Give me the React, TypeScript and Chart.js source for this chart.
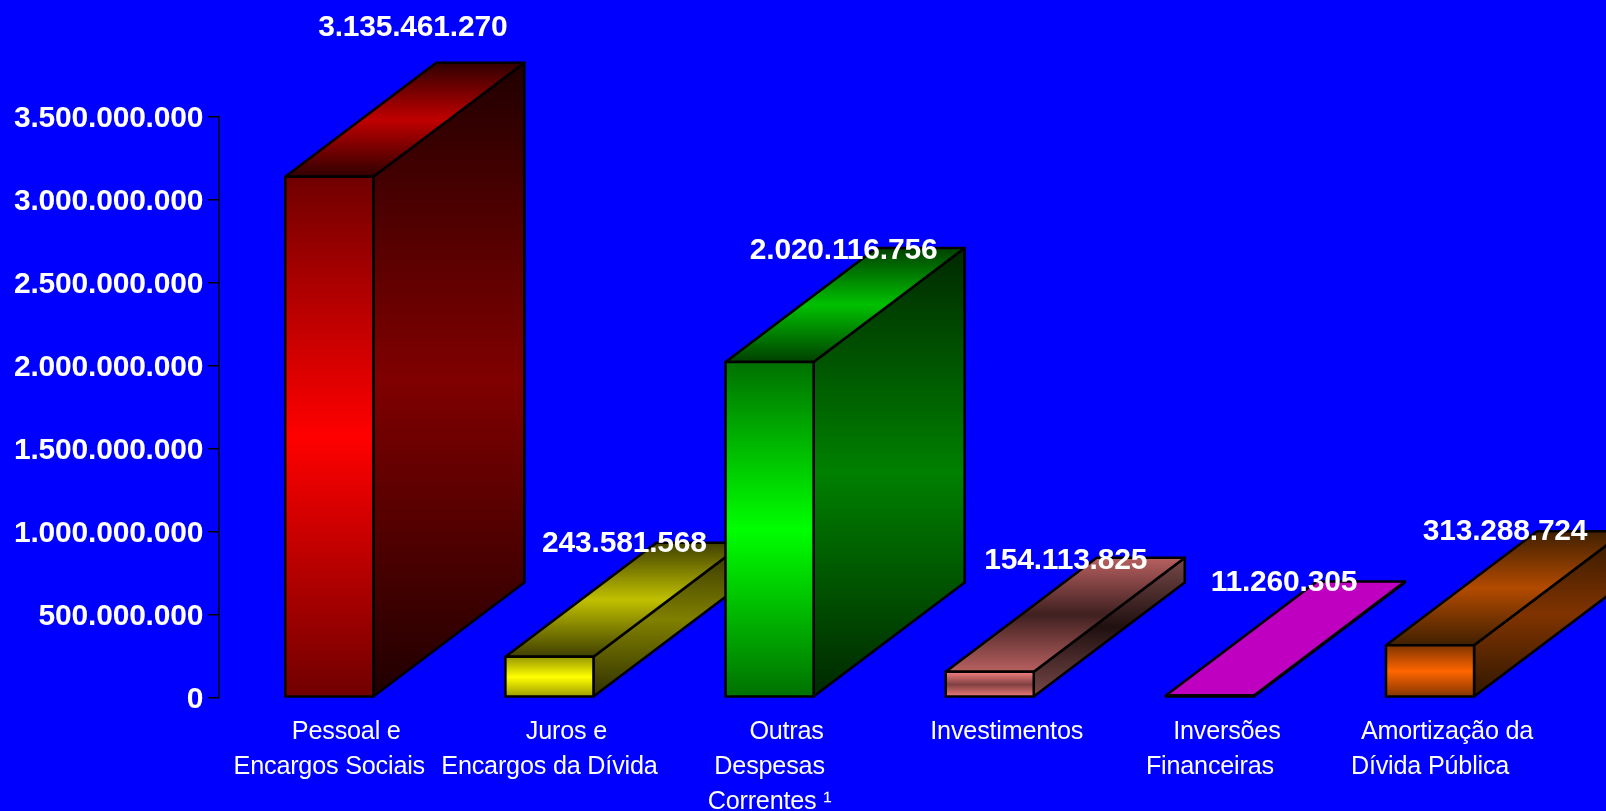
import React, { useEffect, useRef } from "react";
import { Chart, registerables } from "chart.js";

Chart.register(...registerables);

const categories = [
  ["     Pessoal e", "Encargos Sociais"],
  ["     Juros e", "Encargos da Dívida"],
  ["     Outras", "Despesas", "Correntes ¹"],
  ["     Investimentos"],
  ["     Inversões", "Financeiras"],
  ["     Amortização da", "Dívida Pública"],
];
const values = [3135461270, 243581568, 2020116756, 154113825, 11260305, 313288724];
const valueLabels = ["3.135.461.270", "243.581.568", "2.020.116.756", "154.113.825", "11.260.305", "313.288.724"];
const yTicks = ["0", "500.000.000", "1.000.000.000", "1.500.000.000", "2.000.000.000", "2.500.000.000", "3.000.000.000", "3.500.000.000"];

const frontEnd = ["#700000", "#989800", "#007000", "#f58080", "#c000c0", "#803300"];
const frontMid = ["#ff0000", "#ffff00", "#00ff00", "#804040", "#c000c0", "#ff6600"];
const topEnd = ["#300000", "#404000", "#004000", "#b86060", "#c000c0", "#402000"];
const topMid = ["#c00000", "#c0c000", "#00c000", "#402020", "#c000c0", "#b34a00"];
const sideEnd = ["#200000", "#303000", "#002800", "#784848", "#c000c0", "#301800"];
const sideMid = ["#800000", "#808000", "#008000", "#201010", "#c000c0", "#803300"];

// Oblique depth of the 3D bars, and the hand-placed label shift from the top-back-centre of each bar.
const DEPTH_X = 151;
const DEPTH_Y = 114;
const LINE = 2.5;
const labelShiftX = [-67.5, -76, -77, -75, -77, -76];
const labelBaseline = [-27, 9, 11, 11, 9.5, 9];

function grad(ctx: CanvasRenderingContext2D, y0: number, y1: number, end: string, mid: string) {
  const g = ctx.createLinearGradient(0, y0, 0, y1);
  g.addColorStop(0, end);
  g.addColorStop(0.5, mid);
  g.addColorStop(1, end);
  return g;
}

function outline(ctx: CanvasRenderingContext2D, pts: number[][]) {
  ctx.beginPath();
  pts.forEach(([x, y], i) => (i ? ctx.lineTo(x, y) : ctx.moveTo(x, y)));
  ctx.closePath();
}

function face(ctx: CanvasRenderingContext2D, pts: number[][], fill: CanvasGradient) {
  outline(ctx, pts);
  ctx.fillStyle = fill;
  ctx.fill();
  ctx.lineWidth = LINE;
  ctx.strokeStyle = "#000";
  ctx.lineJoin = "round";
  ctx.stroke();
}

const bar3d = {
  id: "bar3d",
  beforeDraw(chart: any) {
    chart.ctx.letterSpacing = "-0.2px";
  },
  beforeDatasetsDraw(chart: any) {
    const { ctx } = chart;
    ctx.save();
    chart.getDatasetMeta(0).data.forEach((bar: any, i: number) => {
      const l = bar.x - bar.width / 2;
      const r = bar.x + bar.width / 2;
      const t = bar.y;
      const b = bar.base;
      face(
        ctx,
        [[r, t], [r + DEPTH_X, t - DEPTH_Y], [r + DEPTH_X, b - DEPTH_Y], [r, b]],
        grad(ctx, t - DEPTH_Y, b, sideEnd[i], sideMid[i])
      );
      face(
        ctx,
        [[l, t], [l + DEPTH_X, t - DEPTH_Y], [r + DEPTH_X, t - DEPTH_Y], [r, t]],
        grad(ctx, t - DEPTH_Y, t, topEnd[i], topMid[i])
      );
    });
    ctx.restore();
  },
  afterDatasetsDraw(chart: any) {
    const { ctx } = chart;
    ctx.save();
    ctx.lineWidth = LINE;
    ctx.strokeStyle = "#000";
    ctx.lineJoin = "round";
    chart.getDatasetMeta(0).data.forEach((bar: any) => {
      const l = bar.x - bar.width / 2;
      const r = bar.x + bar.width / 2;
      outline(ctx, [[l, bar.y], [r, bar.y], [r, bar.base], [l, bar.base]]);
      ctx.stroke();
    });
    ctx.restore();
  },
  afterDraw(chart: any) {
    const { ctx } = chart;
    ctx.save();
    ctx.font = "bold 30px 'Liberation Sans'";
    ctx.fillStyle = "#fff";
    ctx.textAlign = "center";
    ctx.textBaseline = "alphabetic";
    chart.getDatasetMeta(0).data.forEach((bar: any, i: number) => {
      const backCentreX = bar.x + DEPTH_X;
      const backTop = bar.y - DEPTH_Y;
      ctx.fillText(valueLabels[i], backCentreX + labelShiftX[i], backTop + labelBaseline[i]);
    });
    ctx.restore();
  },
};

export default function App() {
  const ref = useRef<HTMLCanvasElement>(null);
  useEffect(() => {
    const chart = new Chart(ref.current!, {
      type: "bar",
      data: {
        labels: categories as any,
        datasets: [
          {
            data: values,
            categoryPercentage: 1,
            barPercentage: 0.4,
            borderWidth: 0,
            backgroundColor: (c: any) => {
              if (c.dataIndex === undefined || !c.chart.scales.y) return "#000";
              const y = c.chart.scales.y;
              const t = y.getPixelForValue(values[c.dataIndex]);
              const b = y.getPixelForValue(0);
              if (!Number.isFinite(t) || !Number.isFinite(b)) return "#000";
              return grad(c.chart.ctx, t, b, frontEnd[c.dataIndex], frontMid[c.dataIndex]);
            },
          },
        ],
      },
      options: {
        responsive: false,
        animation: false,
        events: [],
        layout: { padding: { top: 116.3, right: 65.9, left: 0, bottom: 0 } },
        plugins: { legend: { display: false }, tooltip: { enabled: false }, title: { display: false } },
        scales: {
          x: {
            grid: { display: false },
            border: { display: false },
            afterFit: (s: any) => {
              s.height = 113.7;
            },
            ticks: {
              color: "#fff",
              font: { family: "'Liberation Sans'", size: 25.2, lineHeight: 1.38 },
              padding: 9.5,
              autoSkip: false,
              maxRotation: 0,
              minRotation: 0,
            },
          },
          y: {
            min: 0,
            max: 3500000000,
            afterFit: (s: any) => {
              s.width = 219.2;
            },
            grid: { drawOnChartArea: false, color: "#000", tickLength: 11, lineWidth: 1.5 },
            border: { color: "#000", width: 1.5 },
            ticks: {
              color: "#fff",
              stepSize: 500000000,
              padding: 5,
              labelOffset: 2,
              font: { family: "'Liberation Sans'", size: 30, weight: "bold" },
              callback: (_v: any, i: number) => yTicks[i],
            },
          },
        },
      },
      plugins: [bar3d],
    } as any);
    return () => chart.destroy();
  }, []);
  return (
    <div style={{ position: "absolute", left: 0, top: 0, width: 1606, height: 811, background: "#0000ff", overflow: "hidden" }}>
      <canvas ref={ref} width={1606} height={811} style={{ display: "block" }} />
    </div>
  );
}
